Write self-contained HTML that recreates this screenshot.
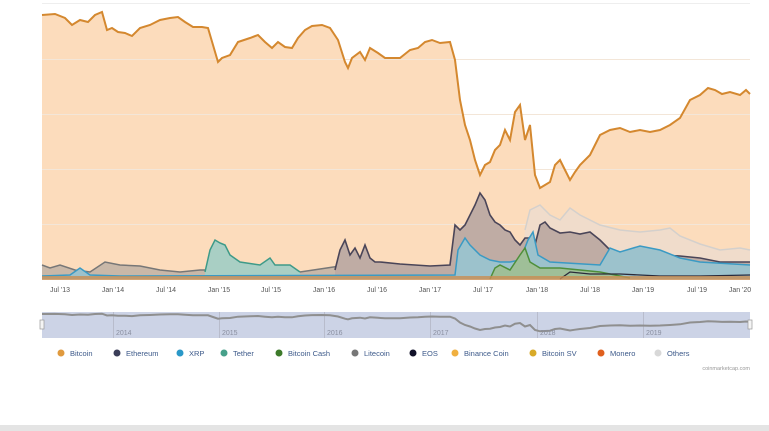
<!DOCTYPE html>
<html><head><meta charset="utf-8"><style>
html,body{margin:0;padding:0;background:#fff;width:769px;height:431px;overflow:hidden}
svg{display:block}
text{font-family:"Liberation Sans",sans-serif}
</style></head><body>
<svg width="769" height="431" viewBox="0 0 769 431" xmlns="http://www.w3.org/2000/svg">
<rect x="0" y="0" width="769" height="431" fill="#fff"/>
<g stroke="#eeeeee" stroke-width="1">
<line x1="42" y1="3.5" x2="750" y2="3.5"/>
</g>
<!-- Bitcoin -->
<polygon fill="#fcdcbc" points="42,279 42,15 55,14 65,18 72,25 80,20 88,22 95,15 102,12 107,30 112,28 118,32 125,33 132,36 140,28 150,25 160,20 170,18 178,17 185,22 193,27 202,27 208,28 213,45 218,62 222,58 230,55 238,42 250,38 258,35 265,42 272,48 278,42 285,47 292,48 298,38 305,30 312,26 322,25 330,28 338,40 345,62 348,68 352,58 360,52 365,60 370,48 378,53 385,58 392,58 400,58 410,50 418,48 425,42 432,40 440,43 450,42 455,60 460,100 465,125 470,140 475,160 480,175 485,165 490,162 495,150 500,145 505,130 510,140 515,112 520,105 525,140 530,125 535,175 540,188 545,185 550,182 555,165 560,160 565,170 570,180 575,172 580,165 590,155 600,135 610,130 620,128 630,132 640,130 650,132 660,130 670,125 680,118 690,100 700,95 708,88 715,90 722,94 730,92 740,95 746,90 750,94 750,279"/>
<g stroke="#f3e6d8" stroke-width="1">
<line x1="42" y1="59.5" x2="750" y2="59.5"/><line x1="42" y1="114.5" x2="750" y2="114.5"/><line x1="42" y1="169.5" x2="750" y2="169.5"/><line x1="42" y1="224.5" x2="750" y2="224.5"/>
</g>
<polyline fill="none" stroke="#d4882f" stroke-width="2" points="42,15 55,14 65,18 72,25 80,20 88,22 95,15 102,12 107,30 112,28 118,32 125,33 132,36 140,28 150,25 160,20 170,18 178,17 185,22 193,27 202,27 208,28 213,45 218,62 222,58 230,55 238,42 250,38 258,35 265,42 272,48 278,42 285,47 292,48 298,38 305,30 312,26 322,25 330,28 338,40 345,62 348,68 352,58 360,52 365,60 370,48 378,53 385,58 392,58 400,58 410,50 418,48 425,42 432,40 440,43 450,42 455,60 460,100 465,125 470,140 475,160 480,175 485,165 490,162 495,150 500,145 505,130 510,140 515,112 520,105 525,140 530,125 535,175 540,188 545,185 550,182 555,165 560,160 565,170 570,180 575,172 580,165 590,155 600,135 610,130 620,128 630,132 640,130 650,132 660,130 670,125 680,118 690,100 700,95 708,88 715,90 722,94 730,92 740,95 746,90 750,94"/>
<!-- Others -->
<polygon fill="#f0dccb" points="520,279 525,230 530,210 540,205 550,215 560,220 570,208 580,215 600,225 620,230 640,232 660,230 670,228 680,236 700,244 720,250 740,248 750,250 750,279"/>
<polyline fill="none" stroke="#d4d0cc" stroke-width="1.5" points="525,230 530,210 540,205 550,215 560,220 570,208 580,215 600,225 620,230 640,232 660,230 670,228 680,236 700,244 720,250 740,248 750,250"/>
<!-- Litecoin early -->
<polygon fill="#c9b8a8" points="42,279 42,265 50,268 60,265 75,270 90,272 105,262 120,265 140,266 160,270 180,272 200,270 260,270 300,272 340,266 380,268 450,268 460,279"/>
<polyline fill="none" stroke="#777" stroke-width="1.5" points="42,265 50,268 60,265 75,270 90,272 105,262 120,265 140,266 160,270 180,272 200,270 260,270 300,272 340,266 380,268 450,268"/>
<!-- Ethereum -->
<polygon fill="#bfaca4" points="335,279 335,270 340,250 345,240 350,255 355,248 360,258 365,245 370,258 375,262 380,262 400,264 430,266 450,265 455,225 460,230 465,225 470,215 475,205 480,193 485,200 490,215 495,222 500,225 505,230 510,232 515,240 520,245 525,238 530,238 535,245 540,225 545,222 550,228 560,233 570,232 580,234 590,232 600,240 610,250 620,252 640,252 660,255 680,256 700,258 720,262 750,262 750,279"/>
<polyline fill="none" stroke="#4a4558" stroke-width="1.6" points="335,270 340,250 345,240 350,255 355,248 360,258 365,245 370,258 375,262 380,262 400,264 430,266 450,265 455,225 460,230 465,225 470,215 475,205 480,193 485,200 490,215 495,222 500,225 505,230 510,232 515,240 520,245 525,238 530,238 535,245 540,225 545,222 550,228 560,233 570,232 580,234 590,232 600,240 610,250 620,252 640,252 660,255 680,256 700,258 720,262 750,262"/>
<!-- Tether -->
<polygon fill="#a9cfc4" points="205,279 205,272 210,250 215,240 220,243 225,245 230,255 240,262 260,265 270,258 275,265 290,265 300,272 300,279"/>
<polyline fill="none" stroke="#3e9a88" stroke-width="1.5" points="205,272 210,250 215,240 220,243 225,245 230,255 240,262 260,265 270,258 275,265 290,265 300,272"/>
<!-- XRP -->
<polygon fill="#9cc2cc" points="42,279 42,276 70,275 80,268 90,275 120,276 455,275 458,250 465,238 470,245 480,255 490,260 500,262 510,262 520,260 528,240 533,232 538,255 550,262 600,265 610,248 620,252 640,246 660,250 680,258 700,262 750,265 750,279"/>
<polyline fill="none" stroke="#3a9ac4" stroke-width="1.5" points="42,276 70,275 80,268 90,275 120,276 455,275 458,250 465,238 470,245 480,255 490,260 500,262 510,262 520,260 528,240 533,232 538,255 550,262 600,265 610,248 620,252 640,246 660,250 680,258 700,262 750,265"/>
<!-- Bitcoin Cash -->
<polygon fill="#9fbf98" points="490,279 495,268 500,265 510,270 520,255 525,248 530,262 540,268 560,268 600,272 630,278"/>
<polyline fill="none" stroke="#4e8f3a" stroke-width="1.5" points="490,279 495,268 500,265 510,270 520,255 525,248 530,262 540,268 560,268 600,272 630,278"/>
<polyline fill="none" stroke="#2a2a3a" stroke-width="1.3" points="560,279 570,272 590,274 620,274 660,276 700,276 750,275"/>
<rect x="42" y="276" width="708" height="4" fill="#c98d52" opacity="0.8"/>
<!-- x labels -->
<g font-size="7" fill="#555" text-anchor="middle">
<text x="60" y="292">Jul '13</text><text x="113" y="292">Jan '14</text><text x="166" y="292">Jul '14</text><text x="219" y="292">Jan '15</text><text x="271" y="292">Jul '15</text><text x="324" y="292">Jan '16</text><text x="377" y="292">Jul '16</text><text x="430" y="292">Jan '17</text><text x="483" y="292">Jul '17</text><text x="537" y="292">Jan '18</text><text x="590" y="292">Jul '18</text><text x="643" y="292">Jan '19</text><text x="697" y="292">Jul '19</text><text x="740" y="292">Jan '20</text>
</g>
<!-- navigator -->
<rect x="42" y="312" width="708" height="26" fill="#ccd3e6"/>
<g stroke="#b8bccc" stroke-width="1">
<line x1="113.5" y1="312" x2="113.5" y2="338"/><line x1="219.5" y1="312" x2="219.5" y2="338"/><line x1="324.5" y1="312" x2="324.5" y2="338"/><line x1="430.5" y1="312" x2="430.5" y2="338"/><line x1="537.5" y1="312" x2="537.5" y2="338"/><line x1="643.5" y1="312" x2="643.5" y2="338"/>
</g>
<g transform="translate(0,312.5) scale(1,0.1)">
<polyline fill="none" stroke="#8f8f8f" stroke-width="2" vector-effect="non-scaling-stroke" points="42,15 55,14 65,18 72,25 80,20 88,22 95,15 102,12 107,30 112,28 118,32 125,33 132,36 140,28 150,25 160,20 170,18 178,17 185,22 193,27 202,27 208,28 213,45 218,62 222,58 230,55 238,42 250,38 258,35 265,42 272,48 278,42 285,47 292,48 298,38 305,30 312,26 322,25 330,28 338,40 345,62 348,68 352,58 360,52 365,60 370,48 378,53 385,58 392,58 400,58 410,50 418,48 425,42 432,40 440,43 450,42 455,60 460,100 465,125 470,140 475,160 480,175 485,165 490,162 495,150 500,145 505,130 510,140 515,112 520,105 525,140 530,125 535,175 540,188 545,185 550,182 555,165 560,160 565,170 570,180 575,172 580,165 590,155 600,135 610,130 620,128 630,132 640,130 650,132 660,130 670,125 680,118 690,100 700,95 708,88 715,90 722,94 730,92 740,95 746,90 750,94"/>
</g>
<rect x="40" y="320" width="4" height="9" fill="#f4f4f4" stroke="#999" stroke-width="0.7"/>
<rect x="748" y="320" width="4" height="9" fill="#f4f4f4" stroke="#999" stroke-width="0.7"/>
<g font-size="7" fill="#8a8fa0">
<text x="116" y="335">2014</text><text x="222" y="335">2015</text><text x="327" y="335">2016</text><text x="433" y="335">2017</text><text x="540" y="335">2018</text><text x="646" y="335">2019</text>
</g>
<!-- legend -->
<g font-size="7.5" fill="#3d5a8a">
<circle cx="61" cy="353" r="3.5" fill="#e09a3e"/><text x="70" y="356">Bitcoin</text>
<circle cx="117" cy="353" r="3.5" fill="#3a3d58"/><text x="126" y="356">Ethereum</text>
<circle cx="180" cy="353" r="3.5" fill="#2a98c8"/><text x="189" y="356">XRP</text>
<circle cx="224" cy="353" r="3.5" fill="#46a08a"/><text x="233" y="356">Tether</text>
<circle cx="279" cy="353" r="3.5" fill="#3d7a2a"/><text x="288" y="356">Bitcoin Cash</text>
<circle cx="355" cy="353" r="3.5" fill="#777"/><text x="364" y="356">Litecoin</text>
<circle cx="413" cy="353" r="3.5" fill="#101028"/><text x="422" y="356">EOS</text>
<circle cx="455" cy="353" r="3.5" fill="#f0b040"/><text x="464" y="356">Binance Coin</text>
<circle cx="533" cy="353" r="3.5" fill="#d8aa28"/><text x="542" y="356">Bitcoin SV</text>
<circle cx="601" cy="353" r="3.5" fill="#e0601e"/><text x="610" y="356">Monero</text>
<circle cx="658" cy="353" r="3.5" fill="#d8d8d8"/><text x="667" y="356">Others</text>
</g>
<text x="750" y="370" font-size="5.5" fill="#999" text-anchor="end">coinmarketcap.com</text>
<rect x="0" y="425" width="769" height="6" fill="#e4e4e4"/>
</svg>
</body></html>
